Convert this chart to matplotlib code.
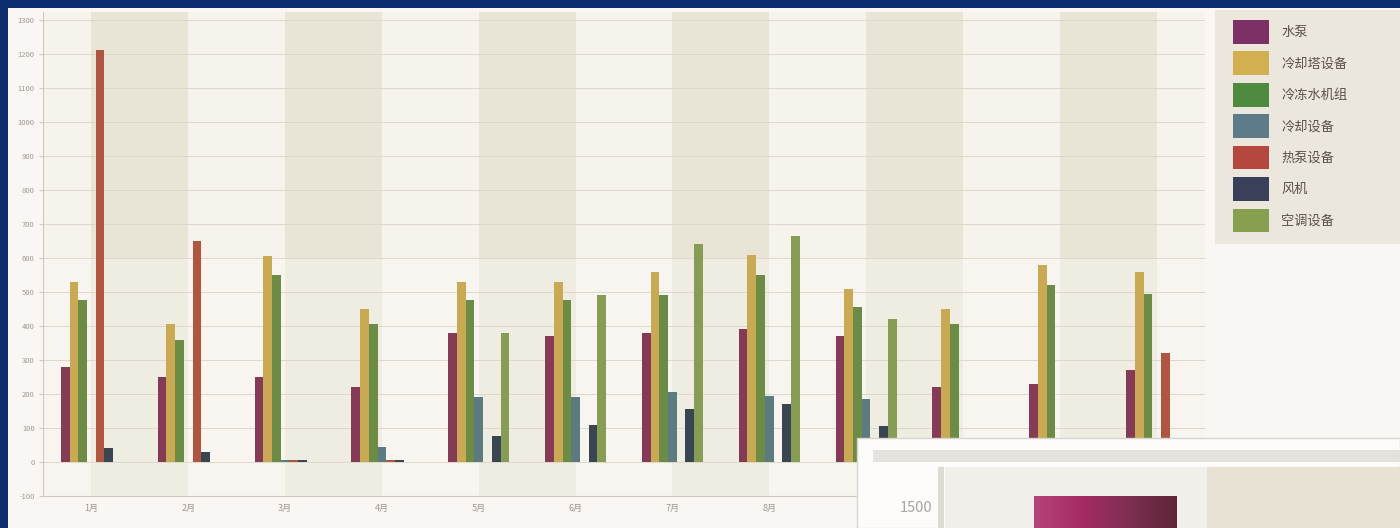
import matplotlib.pyplot as plt
import numpy as np
from matplotlib.patches import Rectangle, Patch
from matplotlib.colors import LinearSegmentedColormap

plt.rcParams['font.family'] = ['Noto Sans CJK SC', 'DejaVu Sans']

# monthly consumption per equipment type
months = ["1月", "2月", "3月", "4月", "5月", "6月",
          "7月", "8月", "9月", "10月", "11月", "12月"]
series_names = ["水泵", "冷却塔设备", "冷冻水机组", "冷却设备", "热泵设备", "风机", "空调设备"]
pump = [280, 250, 250, 220, 380, 370, 380, 390, 370, 220, 230, 270]
tower = [530, 405, 605, 450, 530, 530, 560, 610, 510, 450, 580, 560]
chiller = [475, 360, 550, 405, 475, 475, 490, 550, 455, 405, 520, 495]
cooling = [0, 0, 5, 45, 190, 190, 205, 195, 185, 0, 0, 0]
heat_pump = [1210, 650, 5, 5, 0, 0, 0, 0, 0, 0, 0, 320]
fan = [40, 30, 5, 5, 75, 110, 155, 170, 105, 0, 0, 0]
aircon = [0, 0, 0, 0, 380, 490, 640, 665, 420, 0, 0, 0]
series = [pump, tower, chiller, cooling, heat_pump, fan, aircon]
colors = ["#853a55", "#c9a954", "#6c8c45", "#5b7b80", "#b0553f", "#3a4552", "#879c55"]
legend_colors = ["#7d3065", "#d2b050", "#4e8a40", "#5d7b88", "#b5473c", "#3a3f5a", "#86a050"]
yticks = list(range(-100, 1301, 100))

# second (overlapping) window
inset_x = [0]
inset_vals = [2000]
inset_ticks = [1500]

W, H = 1400, 528
fig = plt.figure(figsize=(14, 5.28), dpi=100, facecolor="#0c2e70")

def fx(px):
    return px / W

def fy(py):
    return 1 - py / H

# chart panel inside the navy frame
fig.patches.append(Rectangle((fx(8), 0), 1, fy(8), transform=fig.transFigure,
                             fc="#f9f6f3", ec="none", zorder=-1))
# legend backdrop
fig.patches.append(Rectangle((fx(1215), fy(244)), fx(W - 1215), 234 / H,
                             transform=fig.transFigure, fc="#ebe7dc", ec="none", zorder=-0.5))

ax = fig.add_axes([fx(43), 32 / H, fx(1205 - 43), (516 - 32) / H])
ax.set_facecolor("#f6f2ec")
n = len(months)
x = np.arange(n)
for i in range(0, n - 1, 2):
    ax.axvspan(i, i + 1, color="#e9e5d6", lw=0, zorder=0)
ax.axhspan(-100, 600, color="white", alpha=0.3, lw=0, zorder=0.3)
for v in yticks:
    ax.axhline(v, color="#ddd8cb", lw=0.7, zorder=0.5)

bw = 0.09
for k, (vals, c) in enumerate(zip(series, colors)):
    ax.bar(x + (k - 3) * bw, vals, width=bw, color=c, lw=0, zorder=2)

ax.set_xlim(-0.5, n - 0.5)
ax.set_ylim(-100, 1323)
ax.set_xticks(x)
ax.set_xticklabels(months, fontsize=6.5, color="#9d9893")
ax.set_yticks(yticks)
ax.set_yticklabels([str(v) for v in yticks], fontsize=5.5, color="#9d9893")
ax.tick_params(axis="x", length=0, pad=6)
ax.tick_params(axis="y", length=3, color="#cfcac0", pad=3)
for s in ["top", "right"]:
    ax.spines[s].set_visible(False)
for s in ["left", "bottom"]:
    ax.spines[s].set_color("#cfcac0")

handles = [Patch(fc=c, ec="none") for c in legend_colors]
fig.legend(handles, series_names, loc="upper left",
           bbox_to_anchor=(fx(1233), fy(20)), frameon=False, fontsize=9.5,
           handlelength=2.75, handleheight=2.37, labelspacing=0.6,
           handletextpad=0.9, borderpad=0, borderaxespad=0, labelcolor="#5a5048")

# overlapping window in the lower right
fig.patches.append(Rectangle((fx(857), 0), fx(W - 857), (H - 438) / H,
                             transform=fig.transFigure, fc="#fdfcfa", ec="#d8d5cf",
                             lw=1, zorder=5))
fig.patches.append(Rectangle((fx(873), fy(462)), fx(W - 873), 12 / H,
                             transform=fig.transFigure, fc="#e4e2dc", ec="none", zorder=6))
fig.patches.append(Rectangle((fx(938), 0), fx(6), (H - 467) / H,
                             transform=fig.transFigure, fc="#dedbd5", ec="none", zorder=6))

ax_in = fig.add_axes([fx(945), 0, fx(W - 945), (H - 467) / H], zorder=7)
ax_in.set_facecolor("#f1efea")
ax_in.axvspan(0.67, 1.94, color="#e7e2d4", lw=0, zorder=0)
bar = ax_in.bar(inset_x, inset_vals, width=0.94, color="#a8336a", lw=0, zorder=2)[0]
grad = np.linspace(0, 1, 256).reshape(1, -1)
cmap = LinearSegmentedColormap.from_list(
    "mag", ["#b34478", "#a62a64", "#7d2f52", "#5e2538"])
im = ax_in.imshow(grad, cmap=cmap, aspect="auto", zorder=3,
                  extent=[bar.get_x(), bar.get_x() + bar.get_width(),
                          bar.get_y(), bar.get_y() + bar.get_height()])
im.set_clip_path(bar)
ax_in.set_xlim(-1.06, 1.94)
ax_in.set_ylim(500, 3400)
ax_in.set_xticks([])
ax_in.set_yticks(inset_ticks)
ax_in.set_yticklabels([str(v) for v in inset_ticks], fontsize=10.5, color="#a8a4a0")
ax_in.tick_params(axis="y", length=0, pad=9)
for s in ax_in.spines.values():
    s.set_visible(False)

fig.savefig("out.png", dpi=100, facecolor=fig.get_facecolor())
